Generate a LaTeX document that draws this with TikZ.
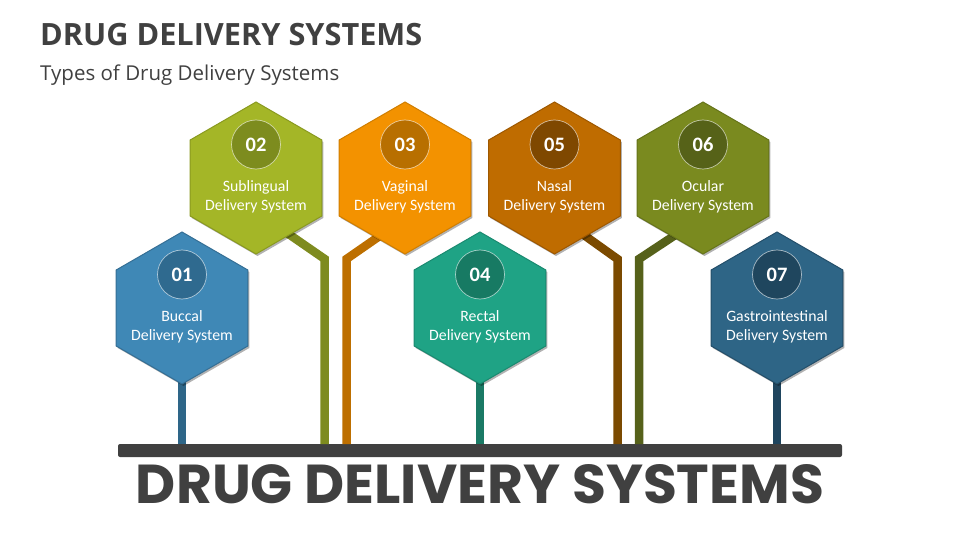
\documentclass[tikz,border=0pt]{standalone}
\usepackage{fontspec}
\setmainfont{Open Sans}
\newfontfamily\hexfont{Carlito}
\newfontfamily\bigfont{Poppins}
\usetikzlibrary{shapes.geometric,shadows,calc}
\definecolor{tgray}{HTML}{404040}
\definecolor{bluef}{HTML}{3F88B6}\definecolor{blueb}{HTML}{356F95}\definecolor{bluec}{HTML}{2F6A8F}\definecolor{blues}{HTML}{2E6688}
\definecolor{limef}{HTML}{A4B627}\definecolor{limeb}{HTML}{8A9A20}\definecolor{limec}{HTML}{7D8C1E}\definecolor{limes}{HTML}{7E8B1F}
\definecolor{orgf}{HTML}{F39200}\definecolor{orgb}{HTML}{D07E00}\definecolor{orgc}{HTML}{B86F00}\definecolor{orgs}{HTML}{BD6F00}
\definecolor{tealf}{HTML}{1FA385}\definecolor{tealb}{HTML}{1A8A70}\definecolor{tealc}{HTML}{177A63}\definecolor{teals}{HTML}{1A7A65}
\definecolor{brnf}{HTML}{BF6C00}\definecolor{brnb}{HTML}{9E5800}\definecolor{brnc}{HTML}{7F4800}\definecolor{brns}{HTML}{7B4A00}
\definecolor{olvf}{HTML}{7A8A1F}\definecolor{olvb}{HTML}{66741A}\definecolor{olvc}{HTML}{566218}\definecolor{olvs}{HTML}{56611A}
\definecolor{navf}{HTML}{2E6586}\definecolor{navb}{HTML}{244F6A}\definecolor{navc}{HTML}{1F465E}\definecolor{navs}{HTML}{1F455E}
\tikzset{
  hexbox/.style={regular polygon, regular polygon sides=6, regular polygon rotate=30,
    minimum size=152pt, inner sep=0pt, line width=1pt,
    drop shadow={shadow xshift=1.5pt, shadow yshift=-2pt, opacity=0.3, fill=black}},
  numcircle/.style={circle, minimum size=49pt, inner sep=0pt, draw=white, draw opacity=0.6,
    line width=0.7pt, text=white, font=\hexfont\bfseries\fontsize{20.5}{22}\selectfont},
  hextext/.style={align=center, text=white, inner sep=0pt,
    font=\hexfont\fontsize{15.8}{19}\selectfont},
  conn/.style={line width=8.5pt, line cap=butt, line join=miter}
}
\begin{document}
\begin{tikzpicture}[x=1pt,y=-1pt]
\useasboundingbox (0,0) rectangle (960,540);
% titles
\node[anchor=base west, inner sep=0pt, text=tgray, font=\bfseries\fontsize{30.7}{36}\selectfont] (title) at (40,46) {DRUG DELIVERY SYSTEMS};
\node[anchor=base west, inner sep=0pt, text=tgray, font=\fontsize{20.5}{24}\selectfont] (sub) at (40,81) {Types of Drug Delivery Systems};
% hexagon positions
\coordinate (p1) at (182,308);
\coordinate (p2) at (256,178);
\coordinate (p3) at (405,178);
\coordinate (p4) at (480,308);
\coordinate (p5) at (554.5,178);
\coordinate (p6) at (703,178);
\coordinate (p7) at (777,308);
% bar
\node[fill=tgray, rounded corners=2pt, minimum width=724pt, minimum height=13pt, inner sep=0pt] (bar) at (480,450.5) {};
% elbows
\coordinate (e2) at (324.7,259); \coordinate (b2) at (324.7,444);
\coordinate (e3) at (346.5,259); \coordinate (b3) at (346.5,444);
\coordinate (e5) at (617.5,259); \coordinate (b5) at (617.5,444);
\coordinate (e6) at (639,259);   \coordinate (b6) at (639,444);
\coordinate (b1) at (182,444); \coordinate (b4) at (480,444); \coordinate (b7) at (777,444);
% connectors (behind hexagons)
\draw[conn, limes] ($(e2)+(-55,-38)$) -- (e2) -- (b2);
\draw[conn, orgs]  ($(e3)+(49,-34)$) -- (e3) -- (b3);
\draw[conn, brns]  ($(e5)+(-49,-35)$) -- (e5) -- (b5);
\draw[conn, olvs]  ($(e6)+(53,-35)$) -- (e6) -- (b6);
\draw[conn, blues] (p1) -- (b1);
\draw[conn, teals] (p4) -- (b4);
\draw[conn, navs]  (p7) -- (b7);
% hexagons
\node[hexbox, fill=bluef, draw=blueb] (h1) at (p1) {};
\node[hexbox, fill=limef, draw=limeb] (h2) at (p2) {};
\node[hexbox, fill=orgf,  draw=orgb]  (h3) at (p3) {};
\node[hexbox, fill=tealf, draw=tealb] (h4) at (p4) {};
\node[hexbox, fill=brnf,  draw=brnb]  (h5) at (p5) {};
\node[hexbox, fill=olvf,  draw=olvb]  (h6) at (p6) {};
\node[hexbox, fill=navf,  draw=navb]  (h7) at (p7) {};
% number circles
\node[numcircle, fill=bluec] (c1) at ($(h1.center)+(0,-33.5)$) {01};
\node[numcircle, fill=limec] (c2) at ($(h2.center)+(0,-33.5)$) {02};
\node[numcircle, fill=orgc]  (c3) at ($(h3.center)+(0,-33.5)$) {03};
\node[numcircle, fill=tealc] (c4) at ($(h4.center)+(0,-33.5)$) {04};
\node[numcircle, fill=brnc]  (c5) at ($(h5.center)+(0,-33.5)$) {05};
\node[numcircle, fill=olvc]  (c6) at ($(h6.center)+(0,-33.5)$) {06};
\node[numcircle, fill=navc]  (c7) at ($(h7.center)+(0,-33.5)$) {07};
% texts
\node[hextext] (t1) at ($(h1.center)+(0,19)$) {Buccal\\Delivery System};
\node[hextext] (t2) at ($(h2.center)+(0,19)$) {Sublingual\\Delivery System};
\node[hextext] (t3) at ($(h3.center)+(0,19)$) {Vaginal\\Delivery System};
\node[hextext] (t4) at ($(h4.center)+(0,19)$) {Rectal\\Delivery System};
\node[hextext] (t5) at ($(h5.center)+(0,19)$) {Nasal\\Delivery System};
\node[hextext] (t6) at ($(h6.center)+(0,19)$) {Ocular\\Delivery System};
\node[hextext] (t7) at ($(h7.center)+(0,19)$) {Gastrointestinal\\Delivery System};
% big text
\node[inner sep=0pt, text=tgray] (big) at (480,484.5) {\resizebox{688pt}{39pt}{\bigfont\bfseries DRUG DELIVERY SYSTEMS}};
\end{tikzpicture}
\end{document}
